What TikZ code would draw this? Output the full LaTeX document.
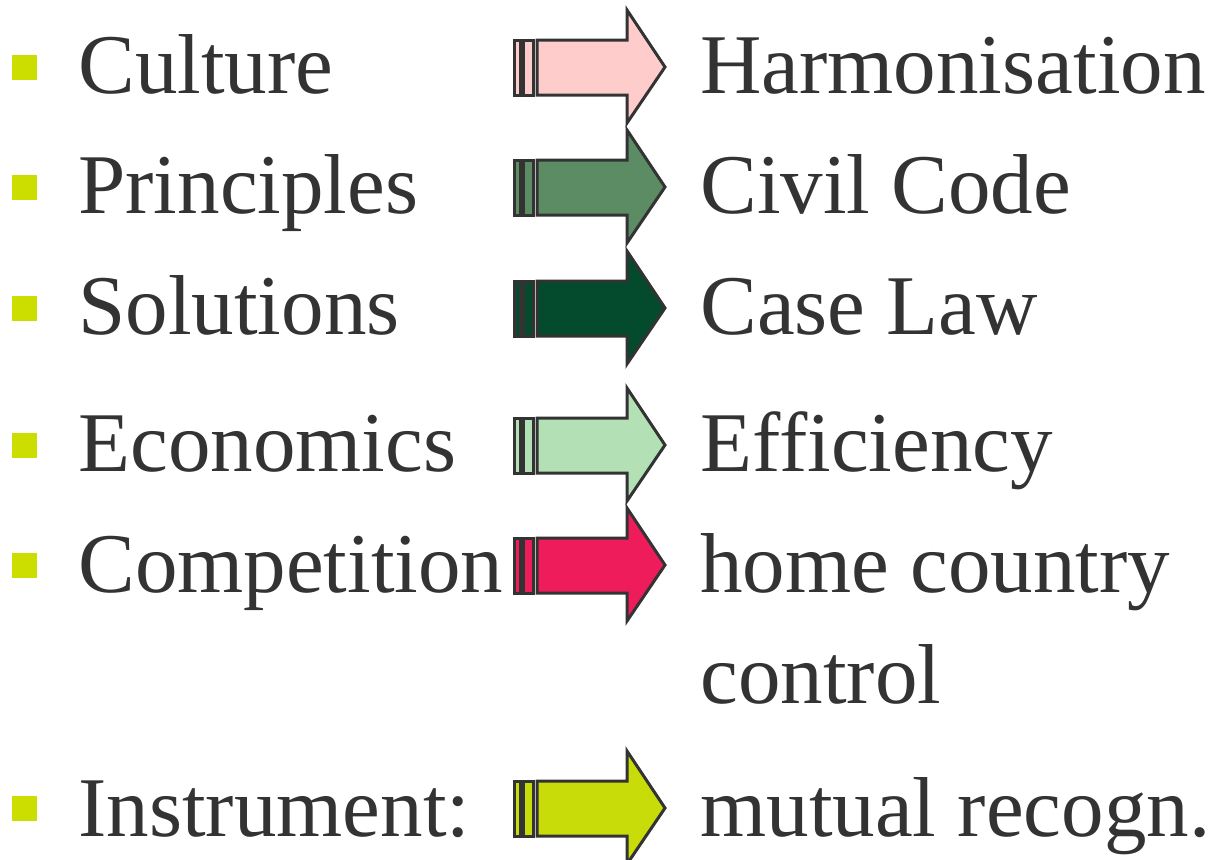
\documentclass[tikz,border=0pt]{standalone}
\usepackage{fontspec}
\setmainfont{Liberation Serif}
\usetikzlibrary{arrows}

\definecolor{txtgray}{HTML}{333333}
\definecolor{bulletyel}{HTML}{CCDD00}
\definecolor{arrpink}{HTML}{FFCCCC}
\definecolor{arrmid}{HTML}{5B8C64}
\definecolor{arrdark}{HTML}{034B2C}
\definecolor{arrlight}{HTML}{B3E1B5}
\definecolor{arrred}{HTML}{EE1C5A}
\definecolor{arryel}{HTML}{C8DC0A}

\tikzset{
  item/.style = {anchor=base west, inner sep=0pt, text=txtgray,
                 font=\fontsize{42.5}{55.5}\selectfont},
  bullet/.style = {fill=bulletyel, inner sep=0pt, minimum size=12.5pt},
  arrline/.style = {draw=txtgray, line width=1.5pt, line join=miter}
}

\begin{document}
\begin{tikzpicture}[x=0.5pt, y=-0.5pt]
        \useasboundingbox (0,0) rectangle (1213,859);

        % arrows and bullets, one per row
        \foreach \cy/\col/\n in {67/arrpink/1, 187/arrmid/2, 308/arrdark/3,
                                 445/arrlight/4, 565/arrred/5, 808/arryel/6} {
            \node[bullet] (b\n) at (24.5,\cy) {};
            \draw[arrline, fill=\col] (514,\cy-27) rectangle (520,\cy+28);
            \draw[arrline, fill=\col] (523,\cy-27) rectangle (533,\cy+28);
            \draw[arrline, fill=\col] (537,\cy-27) -- (627,\cy-27) -- (627,\cy-57)
                -- (665,\cy) -- (627,\cy+56) -- (627,\cy+28) -- (537,\cy+28) -- cycle;
        }

        % left column
        \node[item] (culture) at (78,93) {Culture};
        \node[item] (principles) at (78,213) {Principles};
        \node[item] (solutions) at (78,334) {Solutions};
        \node[item] (economics) at (78,471) {Economics};
        \node[item] (competition) at (78,592) {Competition};
        \node[item] (instrument) at (78,836) {Instrument:};

        % right column
        \node[item] (harmonisation) at (700,93) {Harmonisation};
        \node[item] (civilcode) at (700,213) {Civil Code};
        \node[item] (caselaw) at (700,334) {Case Law};
        \node[item] (efficiency) at (700,471) {Efficiency};
        \node[item, align=left] (homecontrol) at (700,703) {home country\\control};
        \node[item] (mutual) at (700,836) {mutual recogn.};
    \end{tikzpicture}
\end{document}
